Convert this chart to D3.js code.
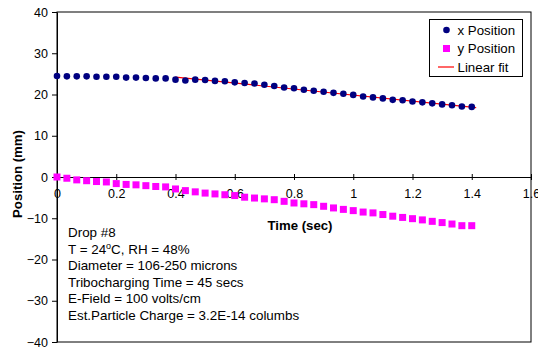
<!DOCTYPE html>
<html>
<head>
<meta charset="utf-8">
<script src="https://cdn.jsdelivr.net/npm/d3@7"></script>
<style>
  body { margin: 0; background: #fff; }
  svg { display: block; font-family: "Liberation Sans", Arial, sans-serif; }
</style>
</head>
<body>
<div id="chart"></div>
<script>
// time step is 1/30 s (43 frames)
const times = d3.range(43).map(i => i / 30);

const xPosition = [
  24.5, 24.4, 24.4, 24.4, 24.3, 24.3, 24.3, 24.1, 24.1, 24.0,
  23.9, 23.9, 23.6, 23.4, 23.6, 23.5, 23.3, 23.2, 22.95, 22.8,
  22.65, 22.35, 22.05, 21.7, 21.5, 21.15, 20.9, 20.65, 20.4, 20.2,
  19.9, 19.5, 19.3, 19.05, 18.7, 18.6, 18.3, 18.1, 17.85, 17.6,
  17.4, 17.1, 17.0
];

const yPosition = [
  0, -0.3, -0.7, -0.9, -1.1, -1.2, -1.6, -1.8, -1.9, -2.1,
  -2.3, -2.4, -2.9, -3.3, -3.6, -3.9, -4.1, -4.3, -4.5, -4.9,
  -5.1, -5.3, -5.5, -5.9, -6.3, -6.5, -6.7, -7.1, -7.5, -7.85,
  -8.15, -8.5, -8.7, -9.1, -9.5, -9.8, -10.1, -10.4, -10.75, -11.05,
  -11.4, -11.8, -11.8
];

const fitStart = 0.4; // linear fit over t >= 0.4 s

const xTicks = [0, 0.2, 0.4, 0.6, 0.8, 1, 1.2, 1.4, 1.6];
const yTicks = [-40, -30, -20, -10, 0, 10, 20, 30, 40];

const legendItems = ['x Position', 'y Position', 'Linear fit'];

const notes = [
  'Drop #8',
  'T = 24|o|C, RH = 48%',
  'Diameter = 106-250 microns',
  'Tribocharging Time = 45 secs',
  'E-Field = 100 volts/cm',
  'Est.Particle Charge = 3.2E-14 columbs'
];

const W = 538, H = 347;
const margin = { top: 12, right: 7, bottom: 5, left: 57 };
const width = W - margin.left - margin.right;
const height = H - margin.top - margin.bottom;

const svg = d3.select('#chart').append('svg')
  .attr('width', W).attr('height', H);

const g = svg.append('g')
  .attr('transform', `translate(${margin.left},${margin.top})`);

const x = d3.scaleLinear().domain([0, 1.6]).range([0, width]);
const y = d3.scaleLinear().domain([-40, 40]).range([height, 0]);

// plot frame
g.append('rect')
  .attr('width', width).attr('height', height)
  .attr('fill', 'none').attr('stroke', '#000').attr('stroke-width', 1);

// y axis
const yAxis = g.append('g')
  .call(d3.axisLeft(y).tickValues(yTicks).tickSize(5).tickSizeOuter(0).tickFormat(d3.format('d')));
yAxis.select('.domain').attr('stroke', '#000');
yAxis.selectAll('text').attr('font-size', 12.5).attr('fill', '#000').attr('dx', -1);

// x axis crossing at zero, cross ticks
const xAxis = g.append('g')
  .attr('transform', `translate(0,${y(0)})`)
  .call(d3.axisBottom(x).tickValues(xTicks).tickSize(0).tickPadding(12).tickFormat(d3.format('')));
xAxis.select('.domain').attr('stroke', '#000');
xAxis.selectAll('.tick line').attr('y1', -3).attr('y2', 3).attr('stroke', '#000');
xAxis.selectAll('text').attr('font-size', 12.5).attr('fill', '#000');

// axis titles
svg.append('text')
  .attr('transform', `translate(22,${margin.top + height / 2 - 3}) rotate(-90)`)
  .attr('text-anchor', 'middle')
  .attr('font-size', 13.2).attr('font-weight', 'bold')
  .text('Position (mm)');

g.append('text')
  .attr('x', x(0.8) + 6).attr('y', y(0) + 53)
  .attr('text-anchor', 'middle')
  .attr('font-size', 13.2).attr('font-weight', 'bold')
  .text('Time (sec)');

// linear fit (least squares on x Position, t >= fitStart)
const fitPts = times.map((t, i) => [t, xPosition[i]]).filter(d => d[0] >= fitStart - 1e-9);
const mx = d3.mean(fitPts, d => d[0]), my = d3.mean(fitPts, d => d[1]);
const slope = d3.sum(fitPts, d => (d[0] - mx) * (d[1] - my)) / d3.sum(fitPts, d => (d[0] - mx) ** 2);
const icpt = my - slope * mx;
const fitEnds = [fitPts[0][0], fitPts[fitPts.length - 1][0] + 0.015];

// y Position squares
const sq = 7;
g.append('g').selectAll('rect')
  .data(yPosition)
  .join('rect')
  .attr('x', (d, i) => x(times[i]) - sq / 2)
  .attr('y', d => y(d) - sq / 2)
  .attr('width', sq).attr('height', sq)
  .attr('fill', '#ff00ff');

g.append('line')
  .attr('x1', x(fitEnds[0])).attr('y1', y(icpt + slope * fitEnds[0]))
  .attr('x2', x(fitEnds[1])).attr('y2', y(icpt + slope * fitEnds[1]))
  .attr('stroke', '#ff0000').attr('stroke-width', 1.2);

// x Position dots
g.append('g').selectAll('circle')
  .data(xPosition)
  .join('circle')
  .attr('cx', (d, i) => x(times[i]))
  .attr('cy', d => y(d))
  .attr('r', 3.3)
  .attr('fill', '#000080');

// legend
const lg = svg.append('g').attr('transform', 'translate(429.5,19.5)');
lg.append('rect').attr('width', 93).attr('height', 57)
  .attr('fill', '#fff').attr('stroke', '#000').attr('stroke-width', 1);
legendItems.forEach((name, i) => {
  const cy = 10.5 + i * 18.5;
  const row = lg.append('g').attr('transform', `translate(0,${cy})`);
  if (i === 0) row.append('circle').attr('cx', 17).attr('r', 3.3).attr('fill', '#000080');
  if (i === 1) row.append('rect').attr('x', 13.5).attr('y', -3.5).attr('width', 7).attr('height', 7).attr('fill', '#ff00ff');
  if (i === 2) row.append('line').attr('x1', 8.5).attr('x2', 24.5).attr('stroke', '#ff0000').attr('stroke-width', 1.2);
  row.append('text').attr('x', 28).attr('dy', '0.35em')
    .attr('font-size', 13.3).text(name);
});

// annotation block
const note = svg.append('text').attr('font-size', 13.4);
notes.forEach((line, i) => {
  const t = note.append('tspan').attr('x', 68).attr('y', 237 + i * 16.5);
  const parts = line.split('|');
  parts.forEach((p, k) => {
    const s = t.append('tspan').text(p);
    if (k === 1) s.attr('font-size', 9).attr('dy', -5);
    if (k === 2) s.attr('dy', 5);
  });
});
</script>
</body>
</html>
